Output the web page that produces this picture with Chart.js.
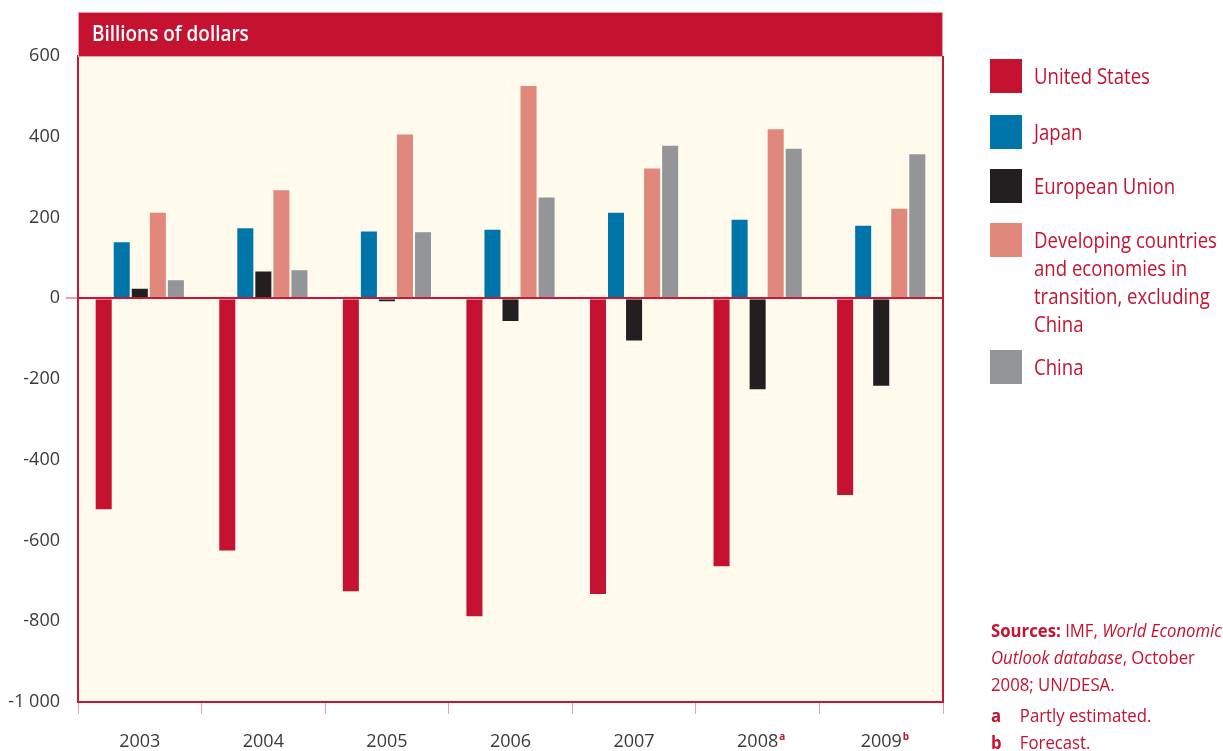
<!DOCTYPE html>
<html>
<head>
<meta charset="utf-8">
<script src="https://cdn.jsdelivr.net/npm/chart.js@4"></script>
<style>
  body { margin: 0; background: #fff; }
  #wrap { position: relative; width: 1223px; height: 751px; overflow: hidden; }
  canvas { position: absolute; left: 0; top: 0; }
  .txt { font-family: 'Open Sans', sans-serif; color: #c41230; }
  .item { position: absolute; left: 990px; display: flex; align-items: flex-start; }
  .sw { width: 32px; height: 34px; flex: none; }
  .lab { margin-left: 12px; font-size: 21px; line-height: 28px; padding-top: 3px; width: 218px;
         transform: scaleX(0.885); transform-origin: left top; }
  #notes { position: absolute; left: 991px; top: 617px; font-size: 18px; line-height: 27px; width: 252px;
           transform: scaleX(0.93); transform-origin: left top; }
  .fn { display: flex; }
  .fn b { width: 31px; }
</style>
</head>
<body>
<div id="wrap">
  <canvas id="chart" width="1223" height="751"></canvas>
  <div id="legend"></div>
  <div id="notes" class="txt">
    <div><b>Sources:</b> IMF, <i>World Economic Outlook database</i>, October 2008; UN/DESA.</div>
    <div class="fn" style="margin-top:4px"><b>a</b><span>Partly estimated.</span></div>
    <div class="fn"><b>b</b><span>Forecast.</span></div>
  </div>
</div>
<script>
  const years = ['2003', '2004', '2005', '2006', '2007', '2008', '2009'];
  const yearNotes = ['', '', '', '', '', 'a', 'b'];

  const unitedStates = [-525, -627, -728, -790, -735, -666, -490];
  const japan = [141, 176, 168, 172, 214, 197, 182];
  const europeanUnion = [26, 69, -10, -59, -107, -228, -219];
  const developing = [214, 270, 408, 528, 324, 421, 224];
  const china = [47, 72, 166, 252, 380, 373, 359];

  const seriesNames = ['United States', 'Japan', 'European Union',
    'Developing countries and economies in transition, excluding China', 'China'];
  const seriesColors = ['#c41230', '#0075aa', '#231f20', '#e0887b', '#939598'];
  const seriesData = [unitedStates, japan, europeanUnion, developing, china];

  const RED = '#c8153a';
  const FONT = "'Open Sans', sans-serif";

  // legend on the right, built from the series
  const legendTops = [59, 115, 169, 223, 350];
  const legend = document.getElementById('legend');
  seriesNames.forEach((name, i) => {
    const item = document.createElement('div');
    item.className = 'item txt';
    item.style.top = legendTops[i] + 'px';
    item.innerHTML = '<div class="sw" style="background:' + seriesColors[i] + '"></div>' +
      '<div class="lab">' + name + '</div>';
    legend.appendChild(item);
  });

  const frame = {
    id: 'frame',
    beforeDraw(chart) {
      const { ctx, chartArea: a } = chart;
      ctx.save();
      ctx.fillStyle = '#fffaeb';
      ctx.fillRect(a.left, a.top, a.right - a.left, a.bottom - a.top);
      ctx.restore();
    },
    afterDraw(chart) {
      const { ctx, chartArea: a } = chart;
      ctx.save();
      // header bar
      ctx.fillStyle = '#c41230';
      ctx.fillRect(a.left, 12, a.right - a.left, a.top - 12);
      ctx.strokeStyle = '#eaa0a8';
      ctx.lineWidth = 1;
      ctx.strokeRect(a.left + 0.5, 12.5, a.right - a.left - 1, a.top - 12);
      ctx.save();
      ctx.translate(a.left + 14, 35);
      ctx.scale(0.86, 1);
      ctx.fillStyle = '#fff';
      ctx.font = '600 22px ' + FONT;
      ctx.textBaseline = 'middle';
      ctx.fillText('Billions of dollars', 0, 0);
      ctx.restore();
      // right frame line
      ctx.strokeStyle = RED;
      ctx.lineWidth = 2;
      ctx.beginPath();
      ctx.moveTo(a.right, a.top);
      ctx.lineTo(a.right, a.bottom);
      ctx.stroke();
      // footnote marks on year labels
      const x = chart.scales.x;
      ctx.font = '18px ' + FONT;
      years.forEach((y, i) => {
        if (!yearNotes[i]) return;
        const w = ctx.measureText(y).width;
        const px = x.getPixelForTick(i) + w / 2 + 1;
        ctx.save();
        ctx.font = 'bold 10px ' + FONT;
        ctx.fillStyle = '#c41230';
        ctx.textBaseline = 'middle';
        ctx.fillText(yearNotes[i], px, 737);
        ctx.restore();
      });
      ctx.restore();
    }
  };

  new Chart(document.getElementById('chart'), {
    type: 'bar',
    data: {
      labels: years,
      datasets: seriesData.map((d, i) => ({
        label: seriesNames[i],
        data: d,
        backgroundColor: seriesColors[i],
        borderColor: 'rgba(255,255,255,0.45)',
        borderWidth: 1,
        categoryPercentage: 0.73,
        barPercentage: 1
      }))
    },
    options: {
      responsive: false,
      animation: false,
      layout: { padding: { top: 56, right: 280, left: 0, bottom: 0 } },
      scales: {
        x: {
          afterFit(s) { s.height = 49; },
          grid: { drawOnChartArea: false, tickLength: 12, tickColor: '#eba3a6', offset: true },
          border: { color: RED, width: 2 },
          ticks: { color: '#3a3a3a', font: { family: FONT, size: 18 }, padding: 17 }
        },
        y: {
          min: -1000,
          max: 600,
          afterFit(s) { s.width = 78; },
          grid: {
            tickLength: 12,
            tickColor: '#eba3a6',
            color: c => c.tick && c.tick.value === 0 ? RED : 'transparent',
            lineWidth: c => c.tick && c.tick.value === 0 ? 2 : 0
          },
          border: { color: RED, width: 2 },
          ticks: {
            stepSize: 200,
            color: '#3a3a3a',
            padding: 6,
            font: { family: FONT, size: 18 },
            callback: v => v === -1000 ? '-1 000' : String(v)
          }
        }
      },
      plugins: {
        legend: { display: false },
        tooltip: { enabled: false }
      }
    },
    plugins: [frame]
  });
</script>
</body>
</html>
